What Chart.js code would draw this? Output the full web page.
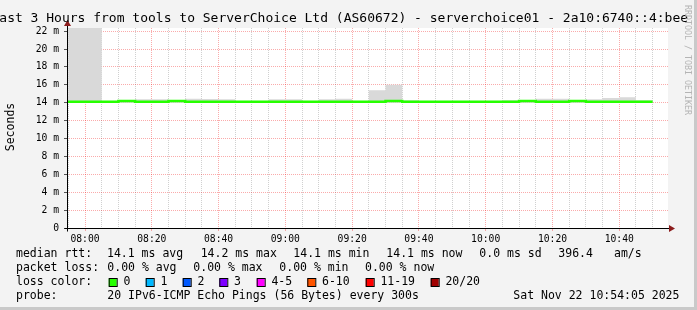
<!DOCTYPE html>
<html>
<head>
<meta charset="utf-8">
<script src="https://cdn.jsdelivr.net/npm/chart.js@4/dist/chart.umd.min.js"></script>
<style>
  html, body { margin: 0; padding: 0; background: #f3f3f3; }
  canvas { display: block; }
</style>
</head>
<body>
<canvas id="ping" width="697" height="310"></canvas>
<script>
// rrd stamps every 300s, each value covers the 5 minutes ending at its stamp
const stamps = ['07:50', '07:55', '08:00', '08:05', '08:10', '08:15', '08:20', '08:25', '08:30', '08:35',
                '08:40', '08:45', '08:50', '08:55', '09:00', '09:05', '09:10', '09:15', '09:20', '09:25',
                '09:30', '09:35', '09:40', '09:45', '09:50', '09:55', '10:00', '10:05', '10:10', '10:15',
                '10:20', '10:25', '10:30', '10:35', '10:40', '10:45', '10:50'];
const medianRtt = [14.1, 14.1, 14.1, 14.1, 14.1, 14.2, 14.1, 14.1, 14.2, 14.1,
                   14.1, 14.1, 14.1, 14.1, 14.1, 14.1, 14.1, 14.1, 14.1, 14.1,
                   14.1, 14.2, 14.1, 14.1, 14.1, 14.1, 14.1, 14.1, 14.1, 14.2,
                   14.1, 14.1, 14.2, 14.1, 14.1, 14.1, 14.1];
const smokeMin = [14.0, 14.0, 14.0, 14.0, 14.0, 14.0, 14.0, 14.0, 14.0, 14.0,
                  14.0, 14.0, 14.0, 14.0, 14.0, 14.0, 14.0, 14.0, 14.0, 14.0,
                  14.0, 14.0, 14.0, 14.0, 14.0, 14.0, 14.0, 14.0, 14.0, 14.0,
                  14.0, 14.0, 14.0, 14.0, 14.0, 14.0, 14.0];
const smokeMax = [14.7, 14.7, 25.0, 25.0, 14.1, 14.2, 14.38, 14.38, 14.2, 14.45,
                  14.42, 14.38, 14.1, 14.1, 14.38, 14.38, 14.1, 14.38, 14.45, 14.1,
                  15.4, 16.0, 14.28, 14.1, 14.1, 14.1, 14.1, 14.1, 14.28, 14.2,
                  14.45, 14.45, 14.2, 14.38, 14.52, 14.62, 14.28];

const timeLabels = ['08:00', '08:20', '08:40', '09:00', '09:20', '09:40', '10:00', '10:20', '10:40'];
const yTickValues = [0, 1, 2, 3, 4, 5, 6, 7, 8, 9, 10, 11, 12, 13, 14, 15, 16, 17, 18, 19, 20, 21, 22];

const lossNames = ['0', '1', '2', '3', '4-5', '6-10', '11-19', '20/20'];
const lossColors = ['#26ff00', '#00b8ff', '#0059ff', '#7e00ff', '#ff00ff', '#ff5500', '#ff0000', '#a10000'];

const toMin = s => { const p = s.split(':'); return +p[0] * 60 + +p[1]; };
const X_MIN = toMin('07:54') + 0.6;   // window is 3 hours wide
const X_MAX = X_MIN + 180;

const MONO = '"DejaVu Sans Mono", "Liberation Mono", monospace';
const MAJOR = 'rgba(240,0,0,0.33)';
const MINOR = 'rgba(150,150,150,0.45)';

function points(vals) {
    return stamps.map((s, i) => ({ x: toMin(s), y: vals[i] }));
}

const frame = {
    id: 'frame',
    beforeDraw(chart) {
        const { ctx, chartArea: a } = chart;
        ctx.save();
        ctx.fillStyle = '#f3f3f3';
        ctx.fillRect(0, 0, chart.width, chart.height);
        ctx.fillStyle = '#ffffff';
        ctx.fillRect(a.left, a.top, a.right - a.left, a.bottom - a.top);
        ctx.restore();
    },
    afterDatasetsDraw(chart) {
        const { ctx, chartArea: a } = chart;
        const x0 = Math.round(a.left) + 0.5, y0 = Math.round(a.bottom) + 0.5;
        ctx.save();
        ctx.strokeStyle = '#000';
        ctx.lineWidth = 1;
        ctx.beginPath();
        ctx.moveTo(x0, y0 + 3); ctx.lineTo(x0, a.top - 4);
        ctx.moveTo(x0 - 3, y0); ctx.lineTo(a.right + 2, y0);
        ctx.stroke();
        ctx.fillStyle = '#8b1c1c';
        ctx.beginPath();
        ctx.moveTo(x0, a.top - 8); ctx.lineTo(x0 - 3.5, a.top - 2); ctx.lineTo(x0 + 3.5, a.top - 2);
        ctx.closePath(); ctx.fill();
        ctx.beginPath();
        ctx.moveTo(a.right + 7, y0); ctx.lineTo(a.right + 1, y0 - 3.5); ctx.lineTo(a.right + 1, y0 + 3.5);
        ctx.closePath(); ctx.fill();
        ctx.restore();
    },
    afterDraw(chart) {
        const ctx = chart.ctx;
        ctx.save();
        // title
        ctx.fillStyle = '#000';
        ctx.font = '13px ' + MONO;
        ctx.textBaseline = 'middle';
        ctx.textAlign = 'left';
        ctx.fillText('ast 3 Hours from tools to ServerChoice Ltd (AS60672) - serverchoice01 - 2a10:6740::4:bee', -0.7, 18.5);

        // vertical axis title
        ctx.font = '11.5px ' + MONO;
        ctx.save();
        ctx.translate(11, 127);
        ctx.rotate(-Math.PI / 2);
        ctx.textAlign = 'center';
        ctx.fillText('Seconds', 0, 0);
        ctx.restore();

        // watermark
        ctx.save();
        ctx.translate(687, 5);
        ctx.rotate(Math.PI / 2);
        ctx.fillStyle = '#b4b4b4';
        ctx.font = '8.3px ' + MONO;
        ctx.textAlign = 'left';
        ctx.fillText('RRDTOOL / TOBI OETIKER', 0, 0);
        ctx.restore();

        // legend rows
        ctx.font = '11.5px ' + MONO;
        ctx.fillStyle = '#000';
        const rows = [
            [254.5, [[16, 'median rtt:'], [107, '14.1 ms avg'], [200.7, '14.2 ms max'], [293.3, '14.1 ms min'],
                     [386.3, '14.1 ms now'], [479.3, '0.0 ms sd'], [558.3, '396.4'], [614, 'am/s']]],
            [268.5, [[16, 'packet loss:'], [107.3, '0.00 % avg'], [193.3, '0.00 % max'], [279.3, '0.00 % min'],
                     [365, '0.00 % now']]],
            [282.5, [[16, 'loss color:']]],
            [296.5, [[16, 'probe:'], [107.3, '20 IPv6-ICMP Echo Pings (56 Bytes) every 300s'],
                     [513.3, 'Sat Nov 22 10:54:05 2025']]]
        ];
        rows.forEach(([y, items]) => items.forEach(([x, t]) => ctx.fillText(t, x, y)));

        const boxX = [108.7, 145.7, 182.7, 219.3, 256.7, 307.3, 365.7, 430.7];
        lossNames.forEach((name, i) => {
            ctx.fillStyle = lossColors[i];
            ctx.fillRect(boxX[i], 278.5, 8, 8);
            ctx.strokeStyle = '#000';
            ctx.lineWidth = 1;
            ctx.strokeRect(boxX[i] + 0.5, 278.5, 8, 8);
            ctx.fillStyle = '#000';
            ctx.fillText(name, boxX[i] + 14.7, 282.5);
        });

        // border shading
        ctx.fillStyle = '#c9c9c9';
        ctx.fillRect(chart.width - 3, 0, 3, chart.height);
        ctx.fillRect(0, chart.height - 3, chart.width, 3);
        ctx.restore();
    }
};

new Chart(document.getElementById('ping'), {
    type: 'line',
    data: {
        datasets: [
            {
                label: 'median rtt',
                data: points(medianRtt),
                borderColor: '#26ff00',
                borderWidth: 2.5,
                stepped: 'after',
                pointRadius: 0,
                fill: false
            },
            {
                label: 'smoke low',
                data: points(smokeMin),
                borderWidth: 0,
                borderColor: 'transparent',
                stepped: 'after',
                pointRadius: 0,
                fill: false
            },
            {
                label: 'smoke high',
                data: points(smokeMax),
                borderWidth: 0,
                borderColor: 'transparent',
                backgroundColor: '#d9d9d9',
                stepped: 'after',
                pointRadius: 0,
                fill: 1
            }
        ]
    },
    options: {
        responsive: false,
        animation: false,
        devicePixelRatio: 1,
        layout: { padding: { left: 0, top: 28, right: 29, bottom: 0 } },
        plugins: { legend: { display: false }, tooltip: { enabled: false } },
        scales: {
            x: {
                type: 'linear',
                min: X_MIN,
                max: X_MAX,
                afterBuildTicks: scale => {
                    const t = [];
                    for (let m = toMin('07:55'); m <= toMin('10:50'); m += 5) t.push({ value: m });
                    scale.ticks = t;
                },
                afterFit: scale => { scale.height = 82; },
                ticks: {
                    autoSkip: false,
                    maxRotation: 0,
                    padding: 3,
                    color: '#000',
                    font: { family: MONO, size: 9.7 },
                    callback: v => {
                        const s = String(Math.floor(v / 60)).padStart(2, '0') + ':' + String(v % 60).padStart(2, '0');
                        return timeLabels.includes(s) ? s : '';
                    }
                },
                grid: {
                    color: c => (c.tick && c.tick.value % 20 === 0) ? MAJOR : MINOR,
                    tickColor: c => (c.tick && c.tick.value % 20 === 0) ? MAJOR : 'transparent',
                    tickLength: 3,
                    lineWidth: 1
                },
                border: { display: false, dash: [1, 1] }
            },
            y: {
                min: 0,
                max: 22.35,
                afterBuildTicks: scale => { scale.ticks = yTickValues.map(v => ({ value: v })); },
                afterFit: scale => { scale.width = 67; },
                ticks: {
                    padding: 5,
                    color: '#000',
                    font: { family: MONO, size: 9.7 },
                    callback: v => v === 0 ? '0' : (v % 2 === 0 ? v + ' m' : '')
                },
                grid: {
                    color: c => (c.tick && c.tick.value % 2 === 0) ? MAJOR : MINOR,
                    tickColor: c => (c.tick && c.tick.value % 2 === 0) ? '#555' : 'transparent',
                    tickLength: 3,
                    lineWidth: 1
                },
                border: { display: false, dash: [1, 1] }
            }
        }
    },
    plugins: [frame]
});
</script>
</body>
</html>
